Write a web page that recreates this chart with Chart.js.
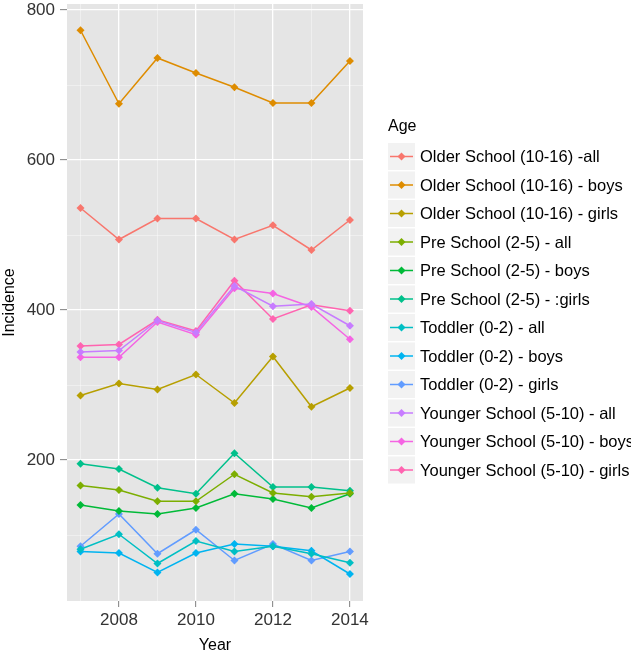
<!DOCTYPE html>
<html>
<head>
<meta charset="utf-8">
<script src="https://cdn.jsdelivr.net/npm/chart.js@4"></script>
<style>
  html, body { margin: 0; padding: 0; background: #fff; }
</style>
</head>
<body>
<canvas id="myChart" width="631" height="655"></canvas>
<script>
const years = [2007, 2008, 2009, 2010, 2011, 2012, 2013, 2014];

const olderAll = [536, 494, 522, 522, 494, 513, 480, 520];
const olderBoys = [773, 675, 736, 716, 697, 676, 676, 732];
const olderGirls = [286, 302, 294, 314, 276, 338, 271, 296];
const preAll = [166, 160, 145, 145, 181, 156, 151, 156];
const preBoys = [140, 132, 128, 136, 155, 148, 136, 155];
const preGirls = [195, 188, 163, 155, 209, 164, 164, 159];
const toddlerAll = [81, 101, 62, 92, 78, 85, 75, 63];
const toddlerBoys = [78, 76, 50, 76, 88, 85, 79, 48];
const toddlerGirls = [85, 128, 75, 107, 66, 88, 66, 78];
const youngerAll = [344, 346, 386, 370, 432, 405, 408, 379];
const youngerBoys = [337, 337, 384, 367, 429, 422, 404, 361];
const youngerGirls = [352, 354, 387, 372, 439, 388, 407, 399];

const seriesNames = [
  "Older School (10-16) -all",
  "Older School (10-16) - boys",
  "Older School (10-16) - girls",
  "Pre School (2-5) - all",
  "Pre School (2-5) - boys",
  "Pre School (2-5) - :girls",
  "Toddler (0-2) - all",
  "Toddler (0-2) - boys",
  "Toddler (0-2) - girls",
  "Younger School (5-10) - all",
  "Younger School (5-10) - boys",
  "Younger School (5-10) - girls"
];
const seriesValues = [olderAll, olderBoys, olderGirls, preAll, preBoys, preGirls,
  toddlerAll, toddlerBoys, toddlerGirls, youngerAll, youngerBoys, youngerGirls];
const colors = ["#F8766D", "#DE8C00", "#B79F00", "#7CAE00", "#00BA38", "#00C08B",
  "#00BFC4", "#00B4F0", "#619CFF", "#C77CFF", "#F564E3", "#FF64B0"];

const xTicks = [2007, 2008, 2009, 2010, 2011, 2012, 2013, 2014];
const yTicks = [100, 200, 300, 400, 500, 600, 700, 800];

const FONT = "'Liberation Sans', Arial, sans-serif";

// grey panel like ggplot
const panelBg = {
  id: "panelBg",
  beforeDraw(chart) {
    const { ctx, chartArea: a } = chart;
    ctx.save();
    ctx.fillStyle = "#E5E5E5";
    ctx.fillRect(a.left, a.top, a.right - a.left, a.bottom - a.top);
    ctx.restore();
  }
};

// legend on the right, keys with line + diamond
const ggLegend = {
  id: "ggLegend",
  afterDraw(chart) {
    const ctx = chart.ctx;
    ctx.save();
    ctx.fillStyle = "#000";
    ctx.font = "16px " + FONT;
    ctx.textBaseline = "middle";
    ctx.fillText("Age", 388, 127);
    ctx.font = "16.5px " + FONT;
    for (let i = 0; i < seriesNames.length; i++) {
      const top = 143 + i * 28.5;
      ctx.fillStyle = "#F2F2F2";
      ctx.fillRect(388, top, 27, 27);
      const cy = top + 13.5;
      ctx.strokeStyle = colors[i];
      ctx.lineWidth = 1.5;
      ctx.beginPath();
      ctx.moveTo(390, cy);
      ctx.lineTo(413, cy);
      ctx.stroke();
      ctx.fillStyle = colors[i];
      ctx.beginPath();
      ctx.moveTo(401.5, cy - 4);
      ctx.lineTo(405.5, cy);
      ctx.lineTo(401.5, cy + 4);
      ctx.lineTo(397.5, cy);
      ctx.closePath();
      ctx.fill();
      ctx.fillStyle = "#000";
      ctx.fillText(seriesNames[i], 420, cy + 1);
    }
    ctx.restore();
  }
};

const datasets = seriesValues.map((vals, i) => ({
  label: seriesNames[i],
  data: vals.map((v, j) => ({ x: years[j], y: v })),
  borderColor: colors[i],
  backgroundColor: colors[i],
  borderWidth: 1.5,
  pointStyle: "rectRot",
  pointRadius: 4,
  pointBorderWidth: 0,
  fill: false,
  tension: 0
}));

new Chart("myChart", {
  type: "line",
  data: { datasets: datasets },
  options: {
    responsive: false,
    animation: false,
    events: [],
    layout: { padding: { left: 0, right: 268, top: 3, bottom: 0 } },
    plugins: {
      legend: { display: false },
      tooltip: { enabled: false }
    },
    scales: {
      x: {
        type: "linear",
        min: 2006.65,
        max: 2014.34,
        afterBuildTicks: (s) => { s.ticks = xTicks.map((v) => ({ value: v })); },
        afterFit: (s) => { s.height = 54; s.paddingLeft = 0; s.paddingRight = 0; },
        border: { display: false },
        grid: {
          color: (c) => (c.tick && c.tick.value % 2 === 0 ? "#FFFFFF" : "rgba(255,255,255,0.55)"),
          lineWidth: (c) => (c.tick && c.tick.value % 2 === 0 ? 1.3 : 0.7),
          tickColor: (c) => (c.tick && c.tick.value % 2 === 0 ? "#7F7F7F" : "rgba(0,0,0,0)"),
          tickLength: 6,
          tickWidth: 1
        },
        ticks: {
          autoSkip: false,
          maxRotation: 0,
          padding: 3,
          color: "#333333",
          font: { family: FONT, size: 17 },
          callback: (v) => (v % 2 === 0 ? String(v) : "")
        },
        title: {
          display: true,
          text: "Year",
          color: "#000",
          font: { family: FONT, size: 16 },
          padding: { top: 0, bottom: 0 }
        }
      },
      y: {
        min: 12,
        max: 808,
        afterBuildTicks: (s) => { s.ticks = yTicks.map((v) => ({ value: v })); },
        afterFit: (s) => { s.width = 67; s.paddingTop = 0; s.paddingBottom = 0; },
        border: { display: false },
        grid: {
          color: (c) => (c.tick && c.tick.value % 200 === 0 ? "#FFFFFF" : "rgba(255,255,255,0.55)"),
          lineWidth: (c) => (c.tick && c.tick.value % 200 === 0 ? 1.3 : 0.7),
          tickColor: (c) => (c.tick && c.tick.value % 200 === 0 ? "#7F7F7F" : "rgba(0,0,0,0)"),
          tickLength: 7,
          tickWidth: 1
        },
        ticks: {
          autoSkip: false,
          padding: 5,
          color: "#333333",
          font: { family: FONT, size: 17 },
          callback: (v) => (v % 200 === 0 ? String(v) : "")
        },
        title: {
          display: true,
          text: "Incidence",
          color: "#000",
          font: { family: FONT, size: 16 },
          padding: { top: 0, bottom: 0 }
        }
      }
    }
  },
  plugins: [panelBg, ggLegend]
});
</script>
</body>
</html>
